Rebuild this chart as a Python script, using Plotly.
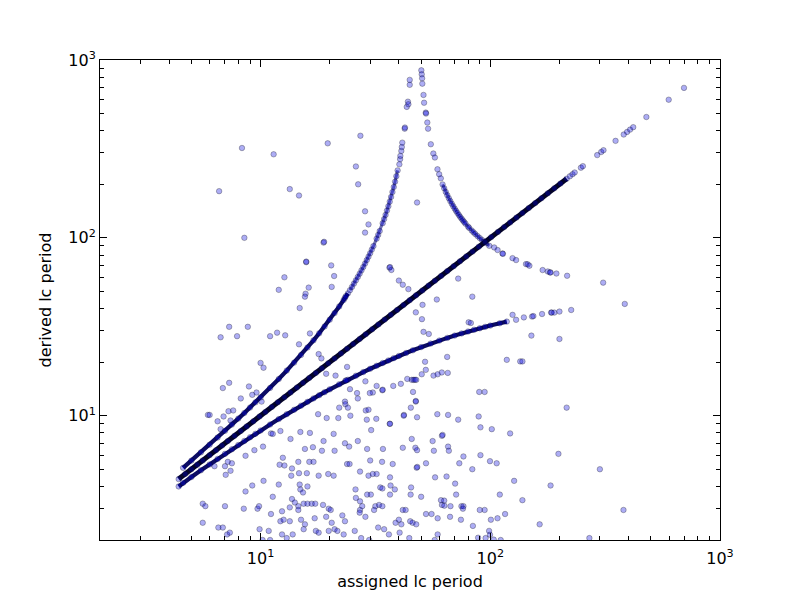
import plotly.graph_objects as go

# --- Data ---
# y = x ridge: dense part and sparse tail
diag_x = [4.4, 4.7, 5.0, 5.3, 5.6, 6.0, 6.4, 6.8, 7.2, 7.7, 8.2, 8.7, 9.3, 9.9, 10.5, 11.2, 11.9,
          12.7, 13.5, 14.4, 15.3, 16.3, 17.4, 18.5, 19.7, 21.0, 22.4, 23.8, 25.3, 27.0, 28.7, 30.6,
          32.6, 34.7, 36.9, 39.3, 41.9, 44.6, 47.5, 50.6, 53.9, 57.4, 61.1, 65.0, 69.3, 73.8, 78.6,
          83.7, 89.1, 94.9, 101, 108, 115, 122, 130, 138, 147, 157, 167, 178, 190, 202, 215]
diag_y = [4.4, 4.7, 5.0, 5.3, 5.6, 6.0, 6.4, 6.8, 7.2, 7.7, 8.2, 8.7, 9.3, 9.9, 10.5, 11.2, 11.9,
          12.7, 13.5, 14.4, 15.3, 16.3, 17.4, 18.5, 19.7, 21.0, 22.4, 23.8, 25.3, 27.0, 28.7, 30.6,
          32.6, 34.7, 36.9, 39.3, 41.9, 44.6, 47.5, 50.6, 53.9, 57.4, 61.1, 65.0, 69.3, 73.8, 78.6,
          83.7, 89.1, 94.9, 101, 108, 115, 122, 130, 138, 147, 157, 167, 178, 190, 202, 215]
diag_tail_x = [222, 228, 233, 248, 253, 292, 304, 311, 351, 381, 394, 406, 419, 478, 598, 697]
diag_tail_y = [222, 228, 233, 248, 253, 292, 304, 311, 351, 381, 394, 406, 419, 478, 598, 697]

# upper alias branch (left of the pole)
upper_x = [4.6, 5.0, 5.5, 6.0, 6.5, 7.0, 7.5, 8.0, 8.5, 9.0, 9.5, 10, 11, 12, 13, 14, 15, 16, 17,
           18, 19, 20, 21, 22, 23, 24]
upper_y = [5.09, 5.59, 6.22, 6.87, 7.54, 8.22, 8.91, 9.63, 10.36, 11.11, 11.89, 12.68, 14.33, 16.08,
           17.93, 19.88, 21.96, 24.18, 26.54, 29.05, 31.76, 34.65, 37.76, 41.13, 44.76, 48.71]
upper_mid_x = [24.5, 25.0, 25.5, 26.0, 26.5, 27.0, 27.5, 28.0, 28.5, 29.0, 29.5, 30.0, 30.5, 31.0,
               32.0, 32.5, 33.0, 34.0, 34.5, 35.0, 35.5, 36.0, 36.5, 37.0, 37.5, 38.0, 38.5, 39.0,
               39.5]
upper_mid_y = [50.8, 53.0, 55.3, 57.7, 60.3, 62.9, 65.7, 68.6, 71.7, 75.0, 78.4, 82.0, 85.9, 89.9,
               98.9, 103.9, 109.2, 120.9, 127.5, 134.6, 142.3, 150.6, 159.8, 169.8, 180.9, 193.1,
               206.9, 222.2, 239.5]
upper_top_x = [23.3, 23.5, 40.2, 40.5, 40.6, 41.0, 41.2, 41.4, 42.4, 42.5, 43.3, 43.8, 44.0,
               44.6, 44.6]
upper_top_y = [46, 47, 259, 277, 289, 308, 324, 343, 411, 417, 545, 583, 564, 725, 773]

# right alias branch (right of the pole)
right_top_x = [50.1, 50.3, 50.5, 50.6, 51.2, 51.5, 52.4, 52.5, 53.2, 53.6, 55.1, 56.5, 57.4,
               58.9, 59.9, 60.9]
right_top_y = [875, 831, 789, 736, 636, 575, 506, 500, 445, 411, 336, 298, 283, 243, 228, 216]
right_mid_x = [62, 63, 64, 65, 66, 67, 68, 69, 70, 71, 72, 73, 74, 75, 76, 77, 78, 80, 81, 83,
               84.5, 86, 88, 90, 92, 94, 96, 99]
right_mid_y = [199.6, 189.9, 181.3, 173.8, 167, 160.9, 155.4, 150.4, 145.9, 141.7, 137.9, 134.4,
               131.1, 128.1, 125.3, 122.7, 120.2, 115.7, 113.7, 110, 107.5, 105.1, 102.3, 99.7,
               97.4, 95.2, 93.3, 90.2]
right_tail_x = [104, 107.6, 113, 113.5, 125, 129.5, 143, 145.5, 148, 169, 178, 182, 183, 194, 216]
right_tail_y = [88.3, 85.4, 81.7, 81.3, 76.9, 75, 71.2, 71, 69.7, 65.9, 64.7, 63.9, 63.9, 63, 61.2]

# lower alias branch
lower_x = [4.4, 4.6, 5, 5.5, 6, 6.5, 7, 7.5, 8, 8.5, 9, 9.5, 10, 11, 12, 13, 14, 15, 16, 17, 18,
           19, 20, 22, 24, 26, 28, 30, 32, 34, 36, 38, 40, 43, 46, 50, 55, 60, 65, 70, 75, 80, 85,
           90, 95, 100, 110, 118]
lower_y = [4.0, 4.19, 4.52, 4.93, 5.32, 5.71, 6.1, 6.47, 6.84, 7.21, 7.56, 7.91, 8.25, 8.92, 9.57,
           10.2, 10.8, 11.39, 11.96, 12.51, 13.04, 13.56, 14.06, 15.02, 15.92, 16.78, 17.59, 18.36,
           19.09, 19.78, 20.44, 21.07, 21.67, 22.52, 23.32, 24.31, 25.43, 26.45, 27.38, 28.22,
           29.01, 29.73, 30.4, 31.01, 31.58, 32.11, 33.08, 33.8]
lower_tail_x = [23.4, 23.6, 125, 129.5, 140, 152, 154, 168, 184, 185, 190, 200, 225]
lower_tail_y = [15.7, 15.8, 36.9, 34.6, 35.7, 36.1, 36.3, 37.3, 38, 38, 38, 38.5, 39.3]

# scattered points above the lower branch
upper_points = [
    (8.3, 320), (11.4, 295), (6.6, 183), (13.4, 188), (14.7, 173), (8.5, 100), (19.6, 340),
    (27.2, 375), (26, 252), (26.6, 200), (48, 158), (28.5, 141), (29.5, 119), (28.5, 107),
    (18.8, 94), (18.9, 95), (15.8, 73), (15.8, 73.5), (20.3, 70), (20.9, 61), (20.4, 53),
    (12.7, 60), (12, 51), (16.2, 52.5), (15.7, 48.5), (15.6, 46.7), (14.8, 40.3), (16.4, 29),
    (14.7, 25.2), (7.3, 31.6), (6.7, 27.6), (8.8, 31.6), (7.9, 28), (11, 28), (11.8, 29.3),
    (12.8, 28.3), (10, 19.8), (10.3, 18.6), (7.3, 15.3), (6.85, 14.3), (8.9, 14.6), (8.2, 12.5),
    (9.2, 13.1), (9.6, 13.5), (5.9, 10.1), (6.0, 10.1), (6.9, 9.9), (6.5, 9.3), (7.25, 10.6),
    (6.7, 8.4), (7.6, 10.7), (7.4, 9.4), (10.1, 12.0),
    (36.4, 68), (36.6, 68.5), (37.1, 66), (40, 57.5), (41.6, 54.5), (44, 51.5),
    (72.5, 59), (83.5, 46.7), (58.5, 45), (50.7, 42), (47.4, 38.1), (50.4, 34.9), (51.2, 29.6),
    (54, 28.8), (64.9, 21.4), (52, 20.1), (52.4, 18.1), (50.3, 17.1), (56.6, 16.8), (59, 17.1),
    (61.5, 17.5), (65.3, 17.4), (80.5, 33.5), (82.3, 33.2), (151, 28.2), (200, 27), (310, 56),
    (385, 42.5), (118, 20.6), (135, 20.2), (138, 20.2), (89.5, 13.6), (94.5, 13.6), (215, 11.1),
    (17.9, 22.2), (18.4, 21), (19.3, 17.2), (21.2, 16.8), (23.8, 18.8), (28.6, 15.6),
    (30.8, 13.5), (33.9, 13.9),
    (45.5, 15.9), (46.3, 15.9), (47, 15.9), (47.6, 15.9), (43.5, 16.1), (40.8, 15.1),
    (37.8, 14.7), (46.1, 13.6), (47.4, 12), (47.4, 12.1), (45.1, 11.1), (42.1, 10.1),
    (36.5, 9.0), (30.3, 8.3),
]

# scattered points in the lower band
lower_points = [
    (17.8, 10.2), (19.4, 9.7), (21.8, 9.7), (24.6, 10), (29, 9.5), (31.9, 9.6), (36.6, 9),
    (42, 10), (48, 9.8), (58.8, 10.2), (65.5, 10.1), (72.5, 9.5), (89, 9.9), (90.6, 8.6),
    (101.5, 8.4), (122, 7.95), (20.8, 7.9), (23.3, 12), (23.4, 11.6), (24, 11.1), (22, 11.1),
    (26.5, 12.5), (26.3, 13.4), (29.9, 13.4), (32, 14.7), (34, 14), (28.7, 10.7), (29.5, 10.8),
    (24.5, 14.1),
    (11.1, 7.95), (11.3, 7.9), (12.2, 8.2), (13.5, 7.4), (14.9, 8.1), (16.4, 8), (18.8, 7.2),
    (23.3, 7), (26.5, 7.2), (29.1, 6.5), (34.1, 6.5), (41.6, 6.6), (45.5, 7.4), (47.2, 6.6),
    (56.1, 7.2), (61.6, 7.7), (62, 7.8), (65.5, 6.7), (66, 6.35), (56.8, 6.35), (48, 6.4),
    (16.9, 6.65), (15.6, 6.5), (18.5, 6.35), (21, 6.35), (24.3, 6.7), (10.25, 6.7), (9.4, 6.4),
    (8.6, 5.95),
    (12.5, 5.8), (14.6, 5.5), (16.3, 5.5), (17, 5.5), (23.8, 5.35), (24.4, 5.35), (30, 5.6),
    (33.8, 5.5), (37.6, 5.35), (47.8, 5.1), (48.1, 5.15), (52.5, 5.4), (73.3, 5.4), (76.4, 5.9),
    (90.6, 6), (99.7, 5.55), (106.6, 5.4), (83.5, 5), (300, 5), (198, 6.1), (7.2, 5.5),
    (7.5, 5.4), (6.3, 5.2), (7, 5.2), (12.1, 5.3), (12.7, 5.25), (13.7, 5.05),
    (7.05, 4.65), (7.4, 4.9), (10.3, 4.3), (12, 4.1), (13.6, 4.6), (14.7, 4.75), (15.9, 4.75),
    (17.9, 4.6), (19.7, 4.7), (20.8, 4.6), (27.1, 4.85), (29.5, 4.6), (30.8, 4.7), (32, 4.7),
    (36.6, 4.5), (33.2, 3.95), (33.9, 3.9), (36.8, 4.05), (38.4, 3.85), (45.2, 3.95),
    (57.5, 4.5), (64.5, 4.55), (70.3, 4.15), (127, 4.3), (183, 4.05), (14.8, 4.1), (14.9, 3.85),
    (15.3, 3.7), (16, 4), (25.9, 3.85), (30.2, 3.6), (29.1, 3.6),
    (8.6, 3.75), (9.2, 4.05), (11.3, 3.5), (13.7, 3.4), (14.1, 3.25), (14.6, 3.1), (15.4, 3.2),
    (16, 3.2), (16.7, 3.2), (17.3, 3.2), (18.7, 3.15), (19.8, 3), (20.2, 2.95), (26, 3.45),
    (27.1, 3.3), (27.7, 3.1), (31.6, 3.1), (32.8, 3.15), (33.9, 3.1), (36.6, 3.6), (45, 3.6),
    (50, 3.5), (61, 3.35), (61.6, 3.15), (63, 3.33), (63.1, 3.12), (71, 3.6), (67.1, 3.1),
    (74.9, 3.1), (76.4, 3.1), (76, 3.0), (110, 3.6), (138, 3.35), (380, 2.95), (5.6, 3.2),
    (5.75, 3.1), (7, 3.1), (8.45, 3), (9.7, 3), (9.85, 3.1), (11.1, 2.8), (12.4, 2.9),
    (13.4, 3.05), (14.6, 2.95),
    (5.6, 2.5), (6.55, 2.35), (6.85, 2.35), (7.15, 2.15), (7.35, 2.2), (9.9, 2.3), (10.85, 2.25),
    (12.2, 2.55), (12.6, 2.6), (13.4, 2.55), (15, 2.6), (15.6, 2.45), (17.2, 2.65), (19.3, 2.7),
    (20.4, 2.5), (22.7, 2.75), (23.3, 2.55), (27.1, 2.95), (27, 2.85), (28.6, 2.7), (31.2, 2.95),
    (32.5, 2.35), (38.7, 2.5), (40, 2.6), (41, 2.45), (41.6, 2.95), (42.8, 2.95), (44.8, 2.55),
    (45.9, 2.5), (47.6, 2.45), (52.5, 2.8), (55.5, 2.8), (59, 2.65), (66.8, 2.7), (74.5, 2.6),
    (90, 2.95), (94.5, 2.95), (100.6, 2.6), (107.5, 2.65), (116, 2.8), (164, 2.45), (84, 2.4),
    (11, 2), (12.4, 2.15), (13, 2.05), (13.8, 2.15), (15.4, 2.3), (17.4, 2.25), (17.9, 2.2),
    (19.8, 2.25), (21, 2.3), (21.6, 2.25), (23, 2.15), (25.7, 2.25), (27.4, 2.05), (29.7, 2),
    (34.5, 2.3), (36.2, 2.15), (40.3, 2.2), (44.4, 2.05), (57.3, 2), (59, 2.15), (95.4, 2.05),
    (98.8, 2.25), (99.7, 2.14), (88.5, 2.06), (103.5, 2.01), (111, 2), (270, 2.05), (10.2, 2),
]

major_ticks = [10, 100, 1000]
major_text = ["10<sup>1</sup>", "10<sup>2</sup>", "10<sup>3</sup>"]
minor_ticks = [2, 3, 4, 5, 6, 7, 8, 9, 20, 30, 40, 50, 60, 70, 80, 90,
               200, 300, 400, 500, 600, 700, 800, 900]

# --- Style ---
MARKER = dict(size=5.5, color="rgba(0,0,225,0.32)",
              line=dict(color="rgba(0,0,0,0.35)", width=0.8))
FONT = "DejaVu Sans, Arial, sans-serif"
CURVE_LINE = dict(color="rgb(12,12,100)", width=4.2)
CHAIN_LINE = dict(color="rgba(15,15,130,0.6)", width=3)

fig = go.Figure()


def add_points(x, y, line=None):
    fig.add_trace(go.Scatter(
        x=x, y=y, mode="lines+markers" if line else "markers",
        marker=MARKER, line=line, showlegend=False, hoverinfo="skip",
    ))


for pts in (upper_points, lower_points):
    add_points([p[0] for p in pts], [p[1] for p in pts])

add_points(upper_x, upper_y, line=CURVE_LINE)
add_points(upper_mid_x, upper_mid_y, line=CHAIN_LINE)
add_points(upper_top_x, upper_top_y)
add_points(right_top_x, right_top_y)
add_points(right_mid_x, right_mid_y, line=CHAIN_LINE)
add_points(right_tail_x, right_tail_y)
add_points(lower_x, lower_y, line=CURVE_LINE)
add_points(lower_tail_x, lower_tail_y)
add_points(diag_x, diag_y, line=dict(color="rgb(4,4,40)", width=5))
add_points(diag_tail_x, diag_tail_y)

axis_common = dict(
    type="log", range=[0.301, 3],
    tickvals=major_ticks, ticktext=major_text,
    ticks="inside", ticklen=7, tickwidth=1, tickcolor="black",
    showline=True, linecolor="black", linewidth=1, mirror="ticks",
    showgrid=False, zeroline=False,
    tickfont=dict(family=FONT, size=16, color="black"),
    minor=dict(tickvals=minor_ticks, ticks="inside", ticklen=4,
               tickwidth=1, tickcolor="black", showgrid=False),
)

# the page body adds an 8px offset, so margins are trimmed to land the frame at 100..720 / 60..540
fig.update_layout(
    width=800, height=600,
    margin=dict(l=92, r=88, t=52, b=68),
    paper_bgcolor="white", plot_bgcolor="white",
    font=dict(family=FONT, color="black"),
    xaxis=dict(axis_common, ticklabelstandoff=4,
               title=dict(text="assigned lc period",
                          font=dict(family=FONT, size=16), standoff=8)),
    yaxis=dict(axis_common,
               title=dict(text="derived lc period",
                          font=dict(family=FONT, size=16), standoff=12)),
)

fig.write_html("out.html")
